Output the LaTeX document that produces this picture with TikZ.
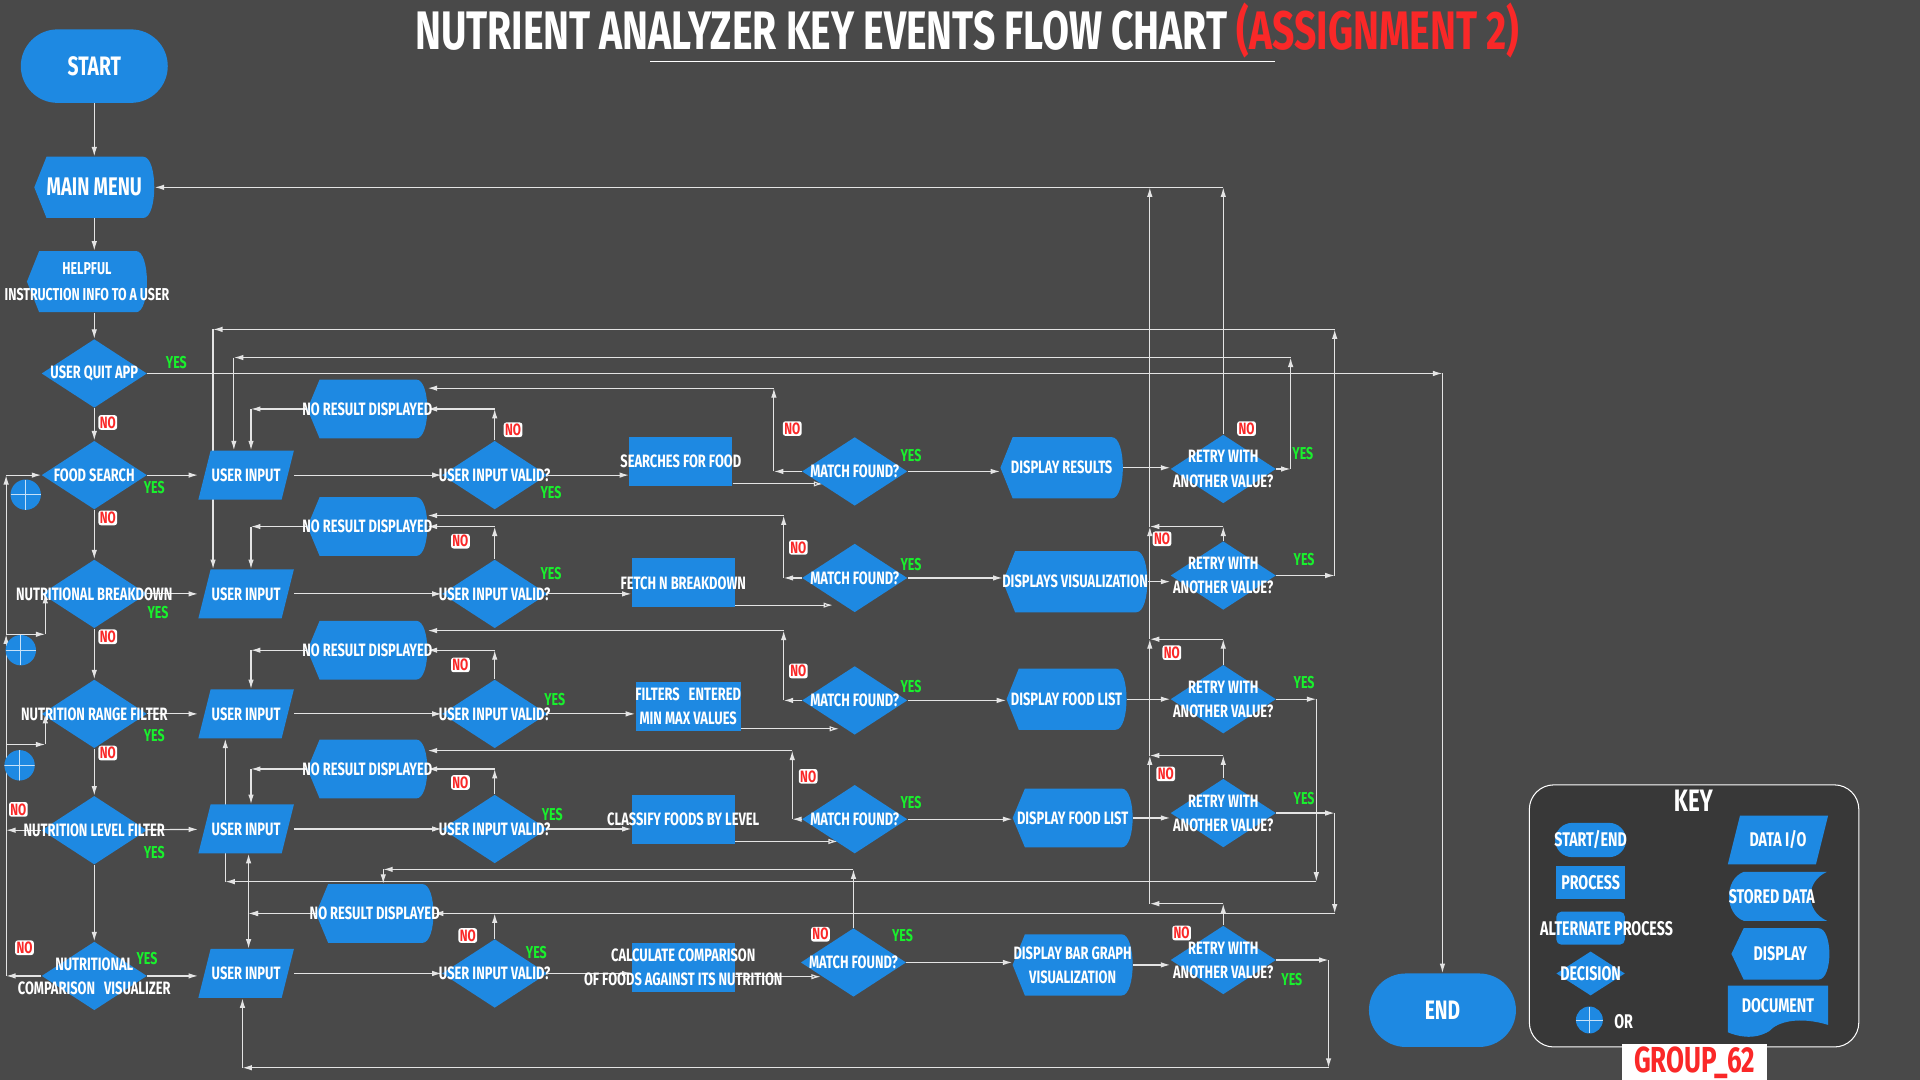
\documentclass[tikz,border=0pt]{standalone}
\usepackage{fontspec}
\newfontfamily\cond{Fira Sans}[FakeStretch=0.72]
\usetikzlibrary{shapes.geometric,arrows.meta}

\definecolor{fcbg}{RGB}{73,73,73}
\definecolor{fcblue}{RGB}{30,137,226}
\definecolor{fcgreen}{RGB}{25,240,45}
\definecolor{fcred}{RGB}{250,40,40}
\definecolor{fckey}{RGB}{56,56,56}
\definecolor{fcline}{RGB}{228,228,228}

\pgfdeclarelayer{paper}
\pgfdeclarelayer{wires}
\pgfsetlayers{paper,wires,main}

\newcommand{\ovr}[1]{\makebox[0pt][c]{#1}}
\newcommand{\dispnode}[7][]{%
  \fill[fcblue] ({#3-#5},#4) -- ({#3-#5+10},{#4-#6}) -- ({#3+#5-9},{#4-#6})
    .. controls ({#3+#5+3},{#4-#6}) and ({#3+#5+3},{#4+#6}) .. ({#3+#5-9},{#4+#6})
    -- ({#3-#5+10},{#4+#6}) -- cycle;
  \node[txt, minimum width={#5*0.05cm}, minimum height={#6*0.05cm}, #1] (#2) at (#3,#4) {#7};
}
\newcommand{\ionode}[7][]{%
  \fill[fcblue] ({#3-#5},{#4+#6}) -- ({#3-#5+10},{#4-#6}) -- ({#3+#5},{#4-#6})
    -- ({#3+#5-10},{#4+#6}) -- cycle;
  \node[txt, minimum width={#5*0.05cm}, minimum height={#6*0.05cm}, #1] (#2) at (#3,#4) {#7};
}

\tikzset{
  txt/.style={text=white, font=\cond\bfseries\fontsize{10.4}{14}\selectfont, align=center, inner sep=0pt},
  ktxt/.style={txt, font=\cond\bfseries\fontsize{11.5}{14}\selectfont},
  term/.style={txt, rectangle, fill=fcblue, rounded corners=0.75cm, minimum width=3cm, minimum height=1.5cm, font=\cond\bfseries\fontsize{15.5}{16}\selectfont},
  dec/.style={txt, diamond, fill=fcblue, minimum width=2.15cm, minimum height=1.4cm},
  proc/.style={txt, rectangle, fill=fcblue, minimum width=2.1cm, minimum height=1cm},
  orsym/.style={circle, fill=fcblue, minimum size=0.62cm, inner sep=0pt, path picture={\draw[white!75!fcblue, line width=0.4pt] (path picture bounding box.north) -- (path picture bounding box.south) (path picture bounding box.west) -- (path picture bounding box.east);}},
  yeslbl/.style={text=fcgreen, font=\cond\bfseries\fontsize{10}{10}\selectfont, inner sep=0pt},
  nolbl/.style={text=fcred, fill=white, rounded corners=1.5pt, inner sep=0.8pt, font=\cond\bfseries\fontsize{9.5}{9.5}\selectfont},
  flow/.style={fcline, line width=0.7pt, -{Latex[length=5.5pt,width=3.2pt]}},
  hollow/.style={fcline, line width=0.7pt, -{Latex[open,length=5.5pt,width=3.2pt]}}
}

\begin{document}
\begin{tikzpicture}[x=0.025cm, y=-0.025cm]
	\begin{pgfonlayer}{paper}
	\fill[fcbg] (0,0) rectangle (1568,882);
	\end{pgfonlayer}
	\useasboundingbox (0,0) rectangle (1568,882);

	\node[text=white, font=\cond\bfseries\fontsize{31.5}{32}\selectfont, inner sep=0pt] (title) at (790,25) {NUTRIENT ANALYZER KEY EVENTS FLOW CHART \textcolor{fcred}{(ASSIGNMENT 2)}};
	\draw[white, line width=0.6pt] (531,50) -- (1041,50);

	\node[term] (start) at (77,54) {START};
	\dispnode[font=\cond\bfseries\fontsize{14.8}{15}\selectfont]{menu}{77}{153}{49}{25}{\ovr{MAIN MENU}}
	\dispnode[font=\cond\bfseries\fontsize{10}{15}\selectfont]{help}{71}{230}{49}{25}{\ovr{HELPFUL}\\\ovr{INSTRUCTION INFO TO A USER}}
	\node[dec] (quit) at (77,305) {\ovr{USER QUIT APP}};
	\node[dec] (fs) at (77,388) {\ovr{FOOD SEARCH}};
	\node[dec] (nb) at (77,485) {\ovr{NUTRITIONAL BREAKDOWN}};
	\node[dec] (nr) at (77,583) {\ovr{NUTRITION RANGE FILTER}};
	\node[dec] (nl) at (77,678) {\ovr{NUTRITION LEVEL FILTER}};
	\node[dec] (nc) at (77,797) {\ovr{NUTRITIONAL}\\\ovr{COMPARISON\enspace VISUALIZER}};

	\node[orsym] (or1) at (21,404) {};
	\node[orsym] (or2) at (17,531) {};
	\node[orsym] (or3) at (16,625) {};

	\ionode{ui1}{201}{388}{39}{20}{\ovr{USER INPUT}}
	\ionode{ui2}{201}{485}{39}{20}{\ovr{USER INPUT}}
	\ionode{ui3}{201}{583}{39}{20}{\ovr{USER INPUT}}
	\ionode{ui4}{201}{677}{39}{20}{\ovr{USER INPUT}}
	\ionode{ui5}{201}{795}{39}{20}{\ovr{USER INPUT}}

	\dispnode{qr1}{300}{334}{49}{24}{\ovr{NO RESULT DISPLAYED}}
	\dispnode{qr2}{300}{430}{49}{24}{\ovr{NO RESULT DISPLAYED}}
	\dispnode{qr3}{300}{531}{49}{24}{\ovr{NO RESULT DISPLAYED}}
	\dispnode{qr4}{300}{628}{49}{24}{\ovr{NO RESULT DISPLAYED}}
	\dispnode{qr5}{306}{746}{48}{24}{\ovr{NO RESULT DISPLAYED}}

	\node[dec] (v1) at (404,388) {\ovr{USER INPUT VALID?}};
	\node[dec] (v2) at (404,485) {\ovr{USER INPUT VALID?}};
	\node[dec] (v3) at (404,583) {\ovr{USER INPUT VALID?}};
	\node[dec] (v4) at (404,677) {\ovr{USER INPUT VALID?}};
	\node[dec] (v5) at (404,795) {\ovr{USER INPUT VALID?}};

	\node[proc] (p1) at (556,377) {\ovr{SEARCHES FOR FOOD}};
	\node[proc] (p2) at (558,476) {\ovr{FETCH N BREAKDOWN}};
	\node[proc, minimum width=2.15cm] (p3) at (562,577) {\ovr{FILTERS\enspace ENTERED}\\\ovr{MIN MAX VALUES}};
	\node[proc] (p4) at (558,669) {\ovr{CLASSIFY FOODS BY LEVEL}};
	\node[proc] (p5) at (558,790) {\ovr{CALCULATE COMPARISON}\\\ovr{OF FOODS AGAINST ITS NUTRITION}};

	\node[dec] (m1) at (698,385) {\ovr{MATCH FOUND?}};
	\node[dec] (m2) at (698,472) {\ovr{MATCH FOUND?}};
	\node[dec] (m3) at (698,572) {\ovr{MATCH FOUND?}};
	\node[dec] (m4) at (698,669) {\ovr{MATCH FOUND?}};
	\node[dec] (m5) at (697,786) {\ovr{MATCH FOUND?}};

	\dispnode{d1}{867}{382}{50}{25}{\ovr{DISPLAY RESULTS}}
	\dispnode{d2}{878}{475}{59}{25}{\ovr{DISPLAYS VISUALIZATION}}
	\dispnode{d3}{871}{571}{49}{25}{\ovr{DISPLAY FOOD LIST}}
	\dispnode{d4}{876}{668}{49}{24}{\ovr{DISPLAY FOOD LIST}}
	\dispnode{d5}{876}{788}{49}{25}{\ovr{DISPLAY BAR GRAPH}\\\ovr{VISUALIZATION}}

	\node[dec] (r1) at (999,383) {\ovr{RETRY WITH}\\\ovr{ANOTHER VALUE?}};
	\node[dec] (r2) at (999,470) {\ovr{RETRY WITH}\\\ovr{ANOTHER VALUE?}};
	\node[dec] (r3) at (999,571) {\ovr{RETRY WITH}\\\ovr{ANOTHER VALUE?}};
	\node[dec] (r4) at (999,664) {\ovr{RETRY WITH}\\\ovr{ANOTHER VALUE?}};
	\node[dec] (r5) at (999,784) {\ovr{RETRY WITH}\\\ovr{ANOTHER VALUE?}};

	\node[term] (fin) at (1178,825) {END};

	\node[yeslbl] (yq) at (144,296) {YES};
	\node[yeslbl] (yfs) at (126,398) {YES};
	\node[yeslbl] (ynb) at (129,500) {YES};
	\node[yeslbl] (ynr) at (126,601) {YES};
	\node[yeslbl] (ynl) at (126,696) {YES};
	\node[yeslbl] (ync) at (120,783) {YES};
	\node[yeslbl] (yv1) at (450,402) {YES};
	\node[yeslbl] (yv2) at (450,468) {YES};
	\node[yeslbl] (yv3) at (453,571) {YES};
	\node[yeslbl] (yv4) at (451,665) {YES};
	\node[yeslbl] (yv5) at (438,778) {YES};
	\node[yeslbl] (ym1) at (744,372) {YES};
	\node[yeslbl] (ym2) at (744,461) {YES};
	\node[yeslbl] (ym3) at (744,561) {YES};
	\node[yeslbl] (ym4) at (744,655) {YES};
	\node[yeslbl] (ym5) at (737,764) {YES};
	\node[yeslbl] (yrt1) at (1064,370) {YES};
	\node[yeslbl] (yrt2) at (1065,457) {YES};
	\node[yeslbl] (yrt3) at (1065,557) {YES};
	\node[yeslbl] (yrt4) at (1065,652) {YES};
	\node[yeslbl] (yrt5) at (1055,800) {YES};

	\node[nolbl] (nq) at (88,345) {NO};
	\node[nolbl] (nfs) at (88,423) {NO};
	\node[nolbl] (nnb) at (88,520) {NO};
	\node[nolbl] (nnr) at (88,615) {NO};
	\node[nolbl] (nnl) at (15,661) {NO};
	\node[nolbl] (nnc) at (20,774) {NO};
	\node[nolbl] (nv1) at (419,351) {NO};
	\node[nolbl] (nv2) at (376,442) {NO};
	\node[nolbl] (nv3) at (376,543) {NO};
	\node[nolbl] (nv4) at (376,639) {NO};
	\node[nolbl] (nv5) at (382,764) {NO};
	\node[nolbl] (nm1) at (647,350) {NO};
	\node[nolbl] (nm2) at (652,447) {NO};
	\node[nolbl] (nm3) at (652,548) {NO};
	\node[nolbl] (nm4) at (660,634) {NO};
	\node[nolbl] (nm5) at (670,763) {NO};
	\node[nolbl] (nrt1) at (1018,350) {NO};
	\node[nolbl] (nrt2) at (949,440) {NO};
	\node[nolbl] (nrt3) at (957,533) {NO};
	\node[nolbl] (nrt4) at (952,632) {NO};
	\node[nolbl] (nrt5) at (965,762) {NO};

	\node[draw=white, fill=fckey, line width=0.6pt, rounded corners=0.5cm, minimum width=6.725cm, minimum height=5.35cm] (keybox) at (1383.5,748) {};
	\node[txt, font=\cond\bfseries\fontsize{18}{18}\selectfont] (keyhead) at (1383,654) {KEY};
	\node[term, minimum width=1.45cm, minimum height=0.7cm, rounded corners=0.35cm, font=\cond\bfseries\fontsize{11.5}{12}\selectfont] (kse) at (1299,686) {\ovr{START/END}};
	\node[proc, ktxt, fill=fcblue, minimum width=1.4cm, minimum height=0.675cm] (kpr) at (1299,721) {\ovr{PROCESS}};
	\node[proc, rounded corners=3pt, minimum width=1.4cm, minimum height=0.675cm] (kap) at (1299,758) {};
	\node[ktxt] (kapt) at (1312,758) {ALTERNATE PROCESS};
	\node[dec, ktxt, fill=fcblue, minimum width=1.4cm, minimum height=0.9cm] (kdc) at (1299,795) {\ovr{DECISION}};
	\node[orsym, minimum size=0.55cm] (kor) at (1298,833) {};
	\node[ktxt] (kort) at (1326,834) {OR};
	\ionode[ktxt]{kio}{1452}{686}{41}{20}{\ovr{DATA I/O}}
	\fill[fcblue] (1424,712) -- (1492,712) .. controls (1474,720) and (1474,744) .. (1492,752) -- (1424,752) .. controls (1408,746) and (1408,718) .. (1424,712) -- cycle;
	\node[ktxt] (ksd) at (1447,732) {STORED DATA};
	\dispnode[ktxt]{kds}{1454}{779}{40}{21}{\ovr{DISPLAY}}
	\fill[fcblue] (1411,805) -- (1493,805) -- (1493,837) .. controls (1470,830) and (1452,834) .. (1445,842) .. controls (1432,850) and (1418,846) .. (1411,843) -- cycle;
	\node[ktxt] (kdoc) at (1452,821) {DOCUMENT};
	\node[fill=white, text=fcred, inner sep=0pt, minimum width=2.95cm, minimum height=0.75cm, font=\cond\bfseries\fontsize{21}{21}\selectfont] (grp) at (1384,868) {GROUP\_62};

	\coordinate (lbus) at (5,806);
	\coordinate (jb) at (5,518);
	\coordinate (jr) at (5,608);
	\coordinate (cb) at (37,518);
	\coordinate (cr) at (37,608);
	\coordinate (ux) at (205,0);
	\coordinate (k1) at (632,317);
	\coordinate (k2) at (640,421);
	\coordinate (k3) at (640,515);
	\coordinate (k4) at (647,613);
	\coordinate (k5) at (313,710);
	\coordinate (bus) at (939,153);
	\coordinate (n2) at (999,430);
	\coordinate (n3) at (999,522);
	\coordinate (n4) at (999,617);
	\coordinate (n5) at (999,738);
	\coordinate (e1) at (1054,292);
	\coordinate (w1) at (191,292);
	\coordinate (e2) at (1090,269);
	\coordinate (w2) at (174,269);
	\coordinate (e3) at (1075,720);
	\coordinate (w3) at (184,720);
	\coordinate (e4) at (1090,746);
	\coordinate (w4) at (203,746);
	\coordinate (e5) at (1085,872);
	\coordinate (w5) at (198,872);

	\begin{pgfonlayer}{wires}
	\draw[flow] (start) -- (menu);
	\draw[flow] (menu) -- (menu.south |- help.north);
	\draw[flow] (help.south -| quit.north) -- (quit.north);
	\draw[flow] (quit) -- (fs);
	\draw[flow] (fs) -- (nb);
	\draw[flow] (nb) -- (nr);
	\draw[flow] (nr) -- (nl);
	\draw[flow] (nl) -- (nc);
	\draw[flow] (quit.east) -- (quit.east -| fin.north);
	\draw[flow] (quit.east -| fin.north) -- (fin.north);

	\draw[flow] (nl.west) -- (nl.west -| lbus);
	\draw[flow] (nc.west) -- (nc.west -| lbus);
	\draw[flow] (nc.west -| lbus) -- (jb);
	\draw[flow] (jb) -- (fs.west -| jb);
	\draw[flow] (fs.west -| jb) -- (fs.west);
	\draw[flow] (jb) -- (cb);
	\draw[flow] (cb) -- (cb |- nb.west);
	\draw[flow] (jr) -- (cr);
	\draw[flow] (cr) -- (cr |- nr.west);

	\draw[flow] (fs) -- (ui1);
	\draw[flow] (nb) -- (ui2);
	\draw[flow] (nr) -- (ui3);
	\draw[flow] (nl) -- (ui4);
	\draw[flow] (nc.east) -- (nc.east -| ui5.west);

	\draw[flow] (ui1) -- (v1);
	\draw[flow] (ui2) -- (v2);
	\draw[flow] (ui3) -- (v3);
	\draw[flow] (ui4) -- (v4);
	\draw[flow] (ui5) -- (v5);

	\draw[flow] (v1) -- (v1 -| p1.west);
	\draw[flow] (v2) -- (v2 -| p2.west);
	\draw[flow] (v3) -- (v3 -| p3.west);
	\draw[flow] (v4) -- (v4 -| p4.west);
	\draw[flow] (v5) -- (v5 -| p5.west);

	\draw[hollow] ([yshift=1.5pt]p1.south east) -- ++(74,0);
	\draw[hollow] ([yshift=1.5pt]p2.south east) -- ++(80,0);
	\draw[hollow] ([yshift=1.5pt]p3.south east) -- ++(80,0);
	\draw[hollow] ([yshift=1.5pt]p4.south east) -- ++(84,0);
	\draw[hollow] ([yshift=9pt]p5.south east) -- ++(70,0);

	\draw[flow] (m1) -- (m1 -| d1.west);
	\draw[flow] (m2) -- (m2 -| d2.west);
	\draw[flow] (m3) -- (m3 -| d3.west);
	\draw[flow] (m4) -- (m4 -| d4.west);
	\draw[flow] (m5) -- (m5 -| d5.west);

	\draw[flow] (d1) -- (d1 -| r1.west);
	\draw[flow] (d2) -- (d2 -| r2.west);
	\draw[flow] (d3) -- (d3 -| r3.west);
	\draw[flow] (d4) -- (d4 -| r4.west);
	\draw[flow] (d5) -- (d5 -| r5.west);

	\draw[flow] (v1) -- (v1 |- qr1.east);
	\draw[flow] (v1 |- qr1.east) -- (qr1.east);
	\draw[flow] (qr1.west) -- (qr1.west -| ux);
	\draw[flow] (qr1.west -| ux) -- (ux |- ui1.north);
	\draw[flow] (v2) -- (v2 |- qr2.east);
	\draw[flow] (v2 |- qr2.east) -- (qr2.east);
	\draw[flow] (qr2.west) -- (qr2.west -| ux);
	\draw[flow] (qr2.west -| ux) -- (ux |- ui2.north);
	\draw[flow] (v3) -- (v3 |- qr3.east);
	\draw[flow] (v3 |- qr3.east) -- (qr3.east);
	\draw[flow] (qr3.west) -- (qr3.west -| ux);
	\draw[flow] (qr3.west -| ux) -- (ux |- ui3.north);
	\draw[flow] (v4) -- (v4 |- qr4.east);
	\draw[flow] (v4 |- qr4.east) -- (qr4.east);
	\draw[flow] (qr4.west) -- (qr4.west -| ux);
	\draw[flow] (qr4.west -| ux) -- (ux |- ui4.north);
	\draw[flow] (v5) -- (v5 |- qr5.east);
	\draw[flow] (v5 |- qr5.east) -- (qr5.east);
	\draw[flow] (qr5.west) -- (w4);
	\draw[flow] (w4) -- (w4 |- ui5.north);

	\draw[flow] (m1) -- (m1 -| k1);
	\draw[flow] (m1 -| k1) -- (k1);
	\draw[flow] (k1) -- (k1 -| qr1.north east);
	\draw[flow] (m2) -- (m2 -| k2);
	\draw[flow] (m2 -| k2) -- (k2);
	\draw[flow] (k2) -- (k2 -| qr2.north east);
	\draw[flow] (m3) -- (m3 -| k3);
	\draw[flow] (m3 -| k3) -- (k3);
	\draw[flow] (k3) -- (k3 -| qr3.north east);
	\draw[flow] (m4) -- (m4 -| k4);
	\draw[flow] (m4 -| k4) -- (k4);
	\draw[flow] (k4) -- (k4 -| qr4.north east);
	\draw[flow] (m5) -- (m5 |- k5);
	\draw[flow] (m5 |- k5) -- (k5);
	\draw[flow] (k5) -- (k5 |- qr5.north);

	\draw[flow] (r1) -- (r1 |- menu.east);
	\draw[flow] (r1 |- menu.east) -- (menu.east);
	\draw[flow] (r2) -- (n2);
	\draw[flow] (n2) -- (n2 -| bus);
	\draw[flow] (r3) -- (n3);
	\draw[flow] (n3) -- (n3 -| bus);
	\draw[flow] (r4) -- (n4);
	\draw[flow] (n4) -- (n4 -| bus);
	\draw[flow] (r5) -- (n5);
	\draw[flow] (n5) -- (n5 -| bus);
	\draw[flow] (n5 -| bus) -- (n4 -| bus);
	\draw[flow] (n4 -| bus) -- (n3 -| bus);
	\draw[flow] (n3 -| bus) -- (n2 -| bus);
	\draw[flow] (n2 -| bus) -- (bus);

	\draw[flow] (r1) -- (r1 -| e1);
	\draw[flow] (r1 -| e1) -- (e1);
	\draw[flow] (e1) -- (w1);
	\draw[flow] (w1) -- (w1 |- ui1.north);
	\draw[flow] (r2) -- (r2 -| e2);
	\draw[flow] (r2 -| e2) -- (e2);
	\draw[flow] (e2) -- (w2);
	\draw[flow] (w2) -- (w2 |- ui2.north);
	\draw[flow] (r3) -- (r3 -| e3);
	\draw[flow] (r3 -| e3) -- (e3);
	\draw[flow] (e3) -- (w3);
	\draw[flow] (w3) -- (w3 |- ui3.south);
	\draw[flow] (r4) -- (r4 -| e4);
	\draw[flow] (r4 -| e4) -- (e4);
	\draw[flow] (e4) -- (w4);
	\draw[flow] (w4) -- (w4 |- ui4.south);
	\draw[flow] (r5) -- (r5 -| e5);
	\draw[flow] (r5 -| e5) -- (e5);
	\draw[flow] (e5) -- (w5);
	\draw[flow] (w5) -- (w5 |- ui5.south);
	\end{pgfonlayer}
\end{tikzpicture}
\end{document}
